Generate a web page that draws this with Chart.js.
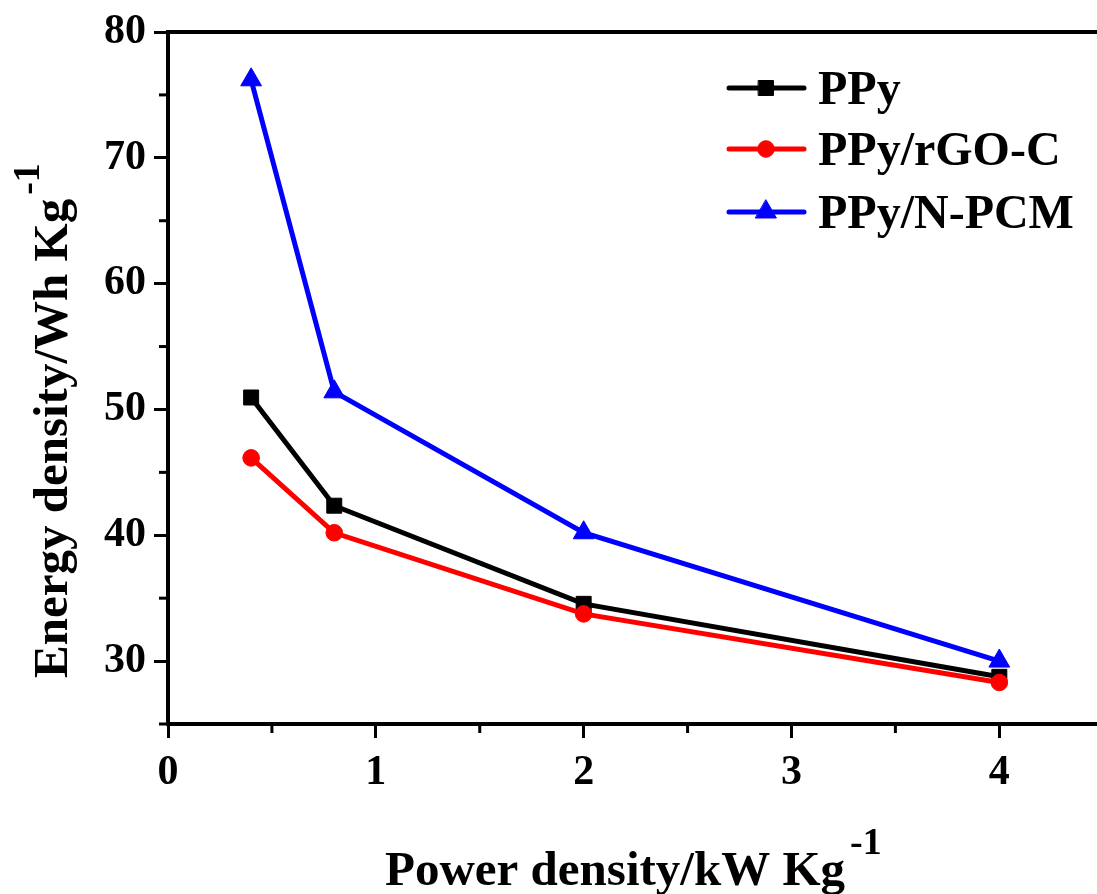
<!DOCTYPE html>
<html><head><meta charset="utf-8">
<script src="https://cdn.jsdelivr.net/npm/chart.js@4/dist/chart.umd.min.js"></script>
<style>html,body{margin:0;padding:0;background:#fff;overflow:hidden}#wrap{width:1097px;height:894px;position:relative}</style>
</head><body><div id="wrap"><canvas id="c"></canvas></div>
<script>
// ---- data ----
const powerDensity = [0.4, 0.8, 2, 4];
const ppy = [50.95, 42.35, 34.55, 28.75];
const ppyRgoC = [46.15, 40.2, 33.75, 28.3];
const ppyNpcm = [76.2, 51.4, 40.2, 30.0];
const seriesLabels = ['PPy', 'PPy/rGO-C', 'PPy/N-PCM'];
const xTickValues = [0, 1, 2, 3, 4];
const yTickValues = [30, 40, 50, 60, 70, 80];
const xMinorTicks = [0.5, 1.5, 2.5, 3.5];
const yMinorTicks = [25, 35, 45, 55, 65, 75];
const xTitle = 'Power density/kW Kg';
const yTitle = 'Energy density/Wh Kg';
const unitSup = '-1';

const FAMILY = '"Liberation Serif", "Times New Roman", serif';
const toPts = ys => powerDensity.map((x, i) => ({x: x, y: ys[i]}));

const styles = [
  {color: '#000000', pointStyle: 'rect', radius: 10.6, order: 3},
  {color: '#ff0000', pointStyle: 'circle', radius: 8.3, order: 2},
  {color: '#0000ff', pointStyle: 'triangle', radius: 12, order: 1}
];
const seriesData = [ppy, ppyRgoC, ppyNpcm];

const datasets = seriesData.map((ys, i) => ({
  label: seriesLabels[i],
  data: toPts(ys),
  borderColor: styles[i].color,
  backgroundColor: styles[i].color,
  borderWidth: 5,
  pointStyle: styles[i].pointStyle,
  pointRadius: styles[i].radius,
  pointHoverRadius: styles[i].radius,
  pointBackgroundColor: styles[i].color,
  pointBorderColor: styles[i].color,
  pointBorderWidth: 1,
  tension: 0,
  fill: false,
  clip: false,
  order: styles[i].order
}));

function drawMarker(ctx, style, radius, x, y, color) {
  ctx.save();
  ctx.fillStyle = color; ctx.strokeStyle = color; ctx.lineWidth = 1;
  if (Chart.helpers && Chart.helpers.drawPoint) {
    Chart.helpers.drawPoint(ctx, {pointStyle: style, radius: radius, rotation: 0, borderWidth: 1}, x, y);
  }
  ctx.restore();
}

const extras = {
  id: 'extras',
  afterDraw(chart) {
    const ctx = chart.ctx;
    const xs = chart.scales.x, ys = chart.scales.y;
    const ca = chart.chartArea;
    ctx.save();
    // minor ticks
    ctx.strokeStyle = '#000'; ctx.lineWidth = 3; ctx.lineCap = 'butt';
    xMinorTicks.forEach(v => {
      const px = xs.getPixelForValue(v);
      ctx.beginPath(); ctx.moveTo(px, ca.bottom); ctx.lineTo(px, ca.bottom + 9); ctx.stroke();
    });
    yMinorTicks.forEach(v => {
      const py = ys.getPixelForValue(v);
      ctx.beginPath(); ctx.moveTo(ca.left, py); ctx.lineTo(ca.left - 9, py); ctx.stroke();
    });
    // axis titles
    ctx.fillStyle = '#000'; ctx.textAlign = 'left'; ctx.textBaseline = 'alphabetic';
    ctx.font = 'bold 49px ' + FAMILY;
    const tx = 385, tb = 885;
    ctx.fillText(xTitle, tx, tb);
    let w = ctx.measureText(xTitle).width;
    ctx.font = 'bold 38px ' + FAMILY;
    ctx.fillText(unitSup, tx + w + 5, tb - 31);

    ctx.save();
    ctx.translate(67, 678);
    ctx.rotate(-Math.PI / 2);
    ctx.font = 'bold 49px ' + FAMILY;
    ctx.fillText(yTitle, 0, 0);
    w = ctx.measureText(yTitle).width;
    ctx.font = 'bold 38px ' + FAMILY;
    ctx.fillText(unitSup, w + 4, -28);
    ctx.restore();

    // legend
    const rows = [88, 149, 212];
    chart.data.datasets.forEach((ds, i) => {
      const y = rows[i];
      ctx.strokeStyle = ds.borderColor; ctx.lineWidth = 5; ctx.lineCap = 'round';
      ctx.beginPath(); ctx.moveTo(729, y); ctx.lineTo(804, y); ctx.stroke();
      drawMarker(ctx, ds.pointStyle, ds.pointRadius, 766, y, ds.borderColor);
      ctx.fillStyle = '#000';
      ctx.font = 'bold 48px ' + FAMILY;
      ctx.textAlign = 'left'; ctx.textBaseline = 'alphabetic';
      ctx.fillText(ds.label, 818, y + 16);
    });
    ctx.restore();
  }
};

const tickFont = {family: FAMILY, size: 42, weight: 'bold'};

new Chart(document.getElementById('c'), {
  type: 'line',
  data: {datasets: datasets},
  options: {
    responsive: true,
    maintainAspectRatio: false,
    animation: false,
    events: [],
    layout: {padding: 0, autoPadding: false},
    plugins: {legend: {display: false}, tooltip: {enabled: false}, title: {display: false}},
    scales: {
      x: {
        type: 'linear', position: 'bottom', min: 0, max: 4.47,
        afterFit(s) { s.height = 170; s.paddingLeft = 0; s.paddingRight = 0; },
        afterBuildTicks(s) { s.ticks = xTickValues.map(v => ({value: v})); },
        ticks: {padding: 10, color: '#000', font: tickFont, maxRotation: 0, includeBounds: false,
                callback: v => String(v)},
        grid: {drawOnChartArea: false, drawTicks: true, tickLength: 14, tickWidth: 3, tickColor: '#000'},
        border: {display: true, color: '#000', width: 4}
      },
      x2: {
        type: 'linear', position: 'top', min: 0, max: 4.47,
        afterFit(s) { s.height = 32; s.paddingLeft = 0; s.paddingRight = 0; },
        ticks: {display: false},
        grid: {drawOnChartArea: false, drawTicks: false},
        border: {display: true, color: '#000', width: 4}
      },
      y: {
        type: 'linear', position: 'left', min: 25, max: 80,
        afterFit(s) { s.width = 168; s.paddingTop = 0; s.paddingBottom = 0; },
        afterBuildTicks(s) { s.ticks = yTickValues.map(v => ({value: v})); },
        ticks: {padding: 8, color: '#000', font: tickFont, includeBounds: false,
                callback: v => String(v)},
        grid: {drawOnChartArea: false, drawTicks: true, tickLength: 14, tickWidth: 3, tickColor: '#000'},
        border: {display: true, color: '#000', width: 4}
      }
    }
  },
  plugins: [extras]
});
</script>
</body></html>
